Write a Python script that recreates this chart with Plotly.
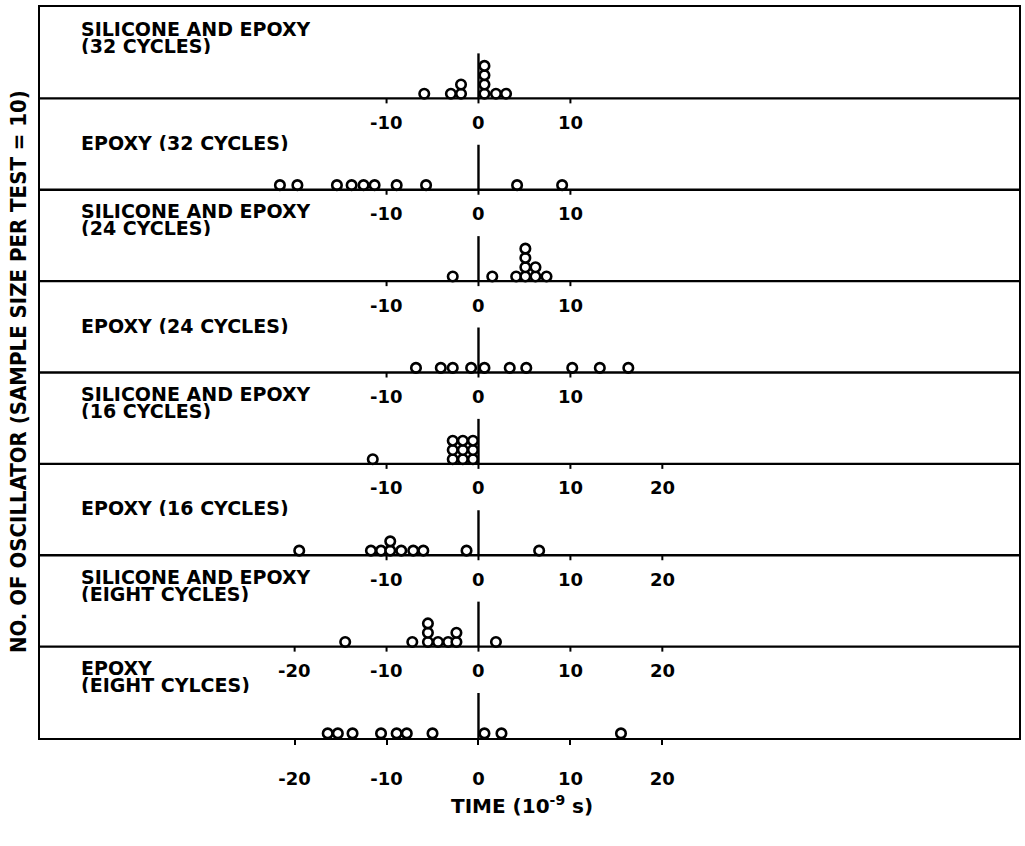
import plotly.graph_objects as go
from collections import Counter

# ---------------- data (top panel first) ----------------
panel_line1 = ["SILICONE AND EPOXY", "EPOXY (32 CYCLES)", "SILICONE AND EPOXY",
               "EPOXY (24 CYCLES)", "SILICONE AND EPOXY", "EPOXY (16 CYCLES)",
               "SILICONE AND EPOXY", "EPOXY"]
panel_line2 = ["(32 CYCLES)", "", "(24 CYCLES)", "", "(16 CYCLES)", "",
               "(EIGHT CYCLES)", "(EIGHT CYLCES)"]

panel_ticks = [
    [],
    [-10, 0, 10],
    [-10, 0, 10],
    [-10, 0, 10],
    [-10, 0, 10],
    [-10, 0, 10, 20],
    [-10, 0, 10, 20],
    [-20, -10, 0, 10, 20],
]
bottom_ticks = [-20, -10, 0, 10, 20]

p1_sil_epoxy_32 = [-5.9, -3.0, -1.9, -1.9, 0.65, 0.65, 0.65, 0.65, 1.9, 3.0]
p2_epoxy_32 = [-21.6, -19.7, -15.4, -13.8, -12.5, -11.3, -8.9, -5.7, 4.2, 9.1]
p3_sil_epoxy_24 = [-2.8, 1.5, 4.1, 5.1, 5.1, 5.1, 5.1, 6.2, 6.2, 7.4]
p4_epoxy_24 = [-6.8, -4.1, -2.8, -0.8, 0.65, 3.4, 5.2, 10.2, 13.2, 16.3]
p5_sil_epoxy_16 = [-11.5, -2.8, -2.8, -2.8, -1.7, -1.7, -1.7, -0.6, -0.6, -0.6]
p6_epoxy_16 = [-19.5, -11.7, -10.6, -9.6, -9.6, -8.4, -7.1, -6.0, -1.3, 6.6]
p7_sil_epoxy_8 = [-14.5, -7.2, -5.5, -5.5, -5.5, -4.4, -3.3, -2.4, -2.4, 1.9]
p8_epoxy_8 = [-16.4, -15.3, -13.7, -10.6, -8.9, -7.8, -5.0, 0.65, 2.5, 15.5]

panels = [p1_sil_epoxy_32, p2_epoxy_32, p3_sil_epoxy_24, p4_epoxy_24,
          p5_sil_epoxy_16, p6_epoxy_16, p7_sil_epoxy_8, p8_epoxy_8]

# ---------------- layout constants ----------------
W, H = 1025, 846
L, R, T, B = 40, 4, 7, 108
plot_h = H - T - B
n = len(panels)
px = plot_h / n           # pixels per panel unit
X0, X1 = -47.7, 58.8

def u(pix):               # pixel -> y units
    return pix / px

FONT = "DejaVu Sans"
LAB_SIZE = 19
TICK_SIZE = 18
fig = go.Figure()
shapes = []
annotations = []

stack_step = u(9.3)
circle_r = u(4.6)

def fmt(t):
    return ("-" if t < 0 else "") + str(abs(t))

for i, vals in enumerate(panels):
    base = n - 1 - i      # baseline y of this panel
    top = base + 1
    counts = Counter()
    xs, ys = [], []
    for v in vals:
        k = counts[v]
        counts[v] += 1
        xs.append(v)
        ys.append(base + circle_r + k * stack_step)
    shapes.append(dict(type="line", xref="x", yref="y", x0=0, x1=0,
                       y0=base, y1=base + u(45), line=dict(color="black", width=2.4)))
    if i < n - 1:
        shapes.append(dict(type="line", xref="paper", yref="y", x0=0, x1=1,
                           y0=base, y1=base, line=dict(color="black", width=2.4)))
        for t in panel_ticks[i + 1]:
            shapes.append(dict(type="line", xref="x", yref="y", x0=t, x1=t,
                               y0=base, y1=base - u(5), line=dict(color="black", width=2)))
    fig.add_trace(go.Scatter(
        x=xs, y=ys, mode="markers", showlegend=False, hoverinfo="skip",
        marker=dict(symbol="circle", size=9.5, color="white",
                    line=dict(color="black", width=2.6))))
    for t in panel_ticks[i]:
        annotations.append(dict(x=t, y=top - u(24), xref="x", yref="y",
                                text=fmt(t), showarrow=False,
                                xanchor="center", yanchor="middle",
                                font=dict(family=FONT, size=TICK_SIZE, color="black", weight="bold")))
    if panel_line2[i]:
        ys_lab = [top - u(21), top - u(38)]
        lines = [panel_line1[i], panel_line2[i]]
    else:
        ys_lab = [top - u(44)]
        lines = [panel_line1[i]]
    for yy, txt in zip(ys_lab, lines):
        annotations.append(dict(x=(79 - L) / (W - L - R), y=yy, xref="paper", yref="y",
                                text=txt, showarrow=False, xanchor="left", yanchor="middle",
                                height=17, valign="middle",
                                font=dict(family=FONT, size=LAB_SIZE, color="black", weight="bold")))

# axis titles
annotations.append(dict(x=(18 - L) / (W - L - R), y=(H - B - 372) / plot_h, xref="paper", yref="paper",
                        text="NO. OF OSCILLATOR (SAMPLE SIZE PER TEST = 10)",
                        textangle=-90, showarrow=False, xanchor="center", yanchor="middle",
                        font=dict(family="DejaVu Sans Condensed", size=22, color="black", weight="bold")))
annotations.append(dict(x=(523 - L) / (W - L - R), y=-(805 - (H - B)) / plot_h, xref="paper", yref="paper",
                        text="TIME (10<sup>-9</sup> s)", showarrow=False,
                        xanchor="center", yanchor="middle",
                        font=dict(family=FONT, size=20, color="black", weight="bold")))

fig.update_layout(
    width=W, height=H,
    margin=dict(l=L, r=R, t=T, b=B),
    plot_bgcolor="white", paper_bgcolor="white",
    shapes=shapes, annotations=annotations,
    xaxis=dict(range=[X0, X1], showgrid=False, zeroline=False,
               showline=True, linecolor="black", linewidth=2.4, mirror=True,
               ticks="outside", ticklen=5, tickwidth=2, tickcolor="black",
               tickvals=bottom_ticks, ticktext=[fmt(t) for t in bottom_ticks],
               ticklabelstandoff=18,
               tickfont=dict(family=FONT, size=TICK_SIZE, color="black", weight="bold")),
    yaxis=dict(range=[0, n], showgrid=False, zeroline=False,
               showline=True, linecolor="black", linewidth=2.4, mirror=True,
               showticklabels=False, ticks=""),
)

fig.write_html("out.html")
